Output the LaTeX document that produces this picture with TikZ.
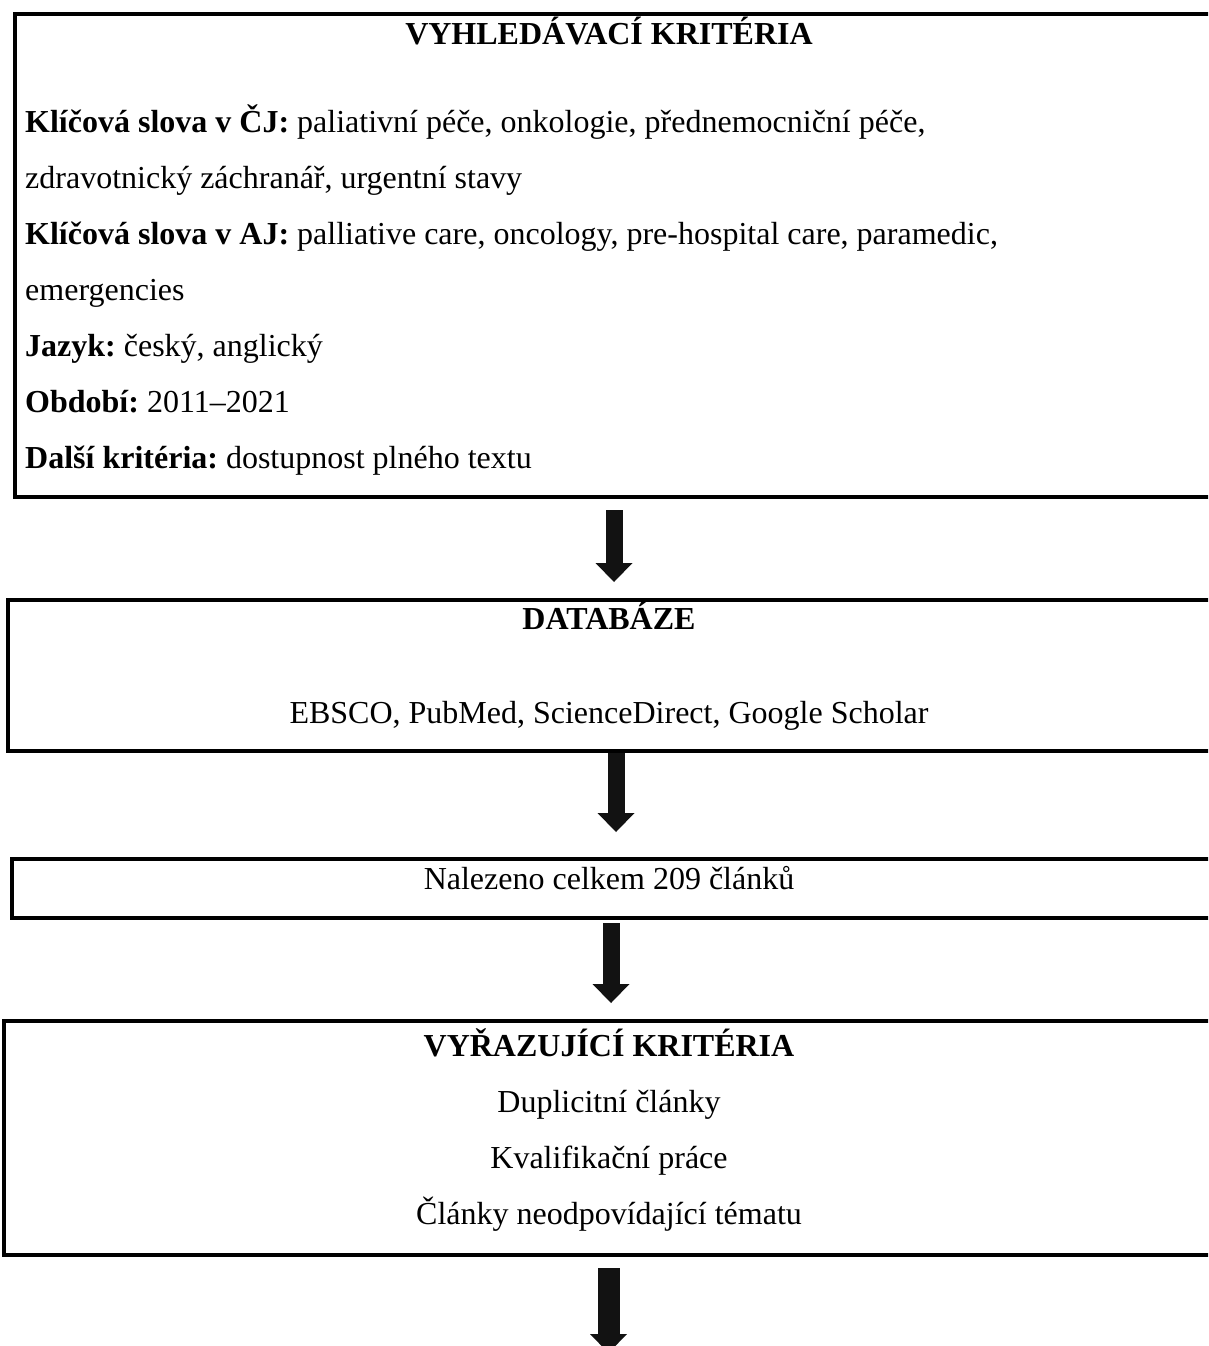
\documentclass[tikz,border=0pt]{standalone}
\usepackage{fontspec}
\setmainfont{Liberation Serif}
\usetikzlibrary{arrows.meta}
\frenchspacing
\begin{document}
\begin{tikzpicture}[x=1pt,y=-1pt,
  boxst/.style={draw=black, line width=4pt, rectangle, inner sep=0pt, anchor=north west},
  txt/.style={font=\fontsize{32}{32}\selectfont, inner sep=0pt, anchor=base},
  ltxt/.style={txt, anchor=base west},
  bigarrow/.style={line width=17pt, draw=black!93, -{Triangle[width=37pt,length=19pt,line width=0pt]}}]
\useasboundingbox (0,0) rectangle (1208,1346);
\clip (0,0) rectangle (1208,1346);
% boxes
\node[boxst, minimum width=1240pt, minimum height=483pt] (b1) at (13,12) {};
\node[boxst, minimum width=1240pt, minimum height=151pt] (b2) at (6,598) {};
\node[boxst, minimum width=1240pt, minimum height=59pt] (b3) at (10,857) {};
\node[boxst, minimum width=1240pt, minimum height=234pt] (b4) at (2,1019) {};
% box 1 text
\node[txt] (h1) at (609,45) {\textbf{VYHLEDÁVACÍ KRITÉRIA}};
\node[ltxt] (k1) at (25,132) {\textbf{Klíčová slova v ČJ:} paliativní péče, onkologie, přednemocniční péče,};
\node[ltxt] (k2) at (25,188) {zdravotnický záchranář, urgentní stavy};
\node[ltxt] (k3) at (25,244) {\textbf{Klíčová slova v AJ:} palliative care, oncology, pre-hospital care, paramedic,};
\node[ltxt] (k4) at (25,300) {emergencies};
\node[ltxt] (k5) at (25,356) {\textbf{Jazyk:} český, anglický};
\node[ltxt] (k6) at (25,412) {\textbf{Období:} 2011–2021};
\node[ltxt] (k7) at (25,468) {\textbf{Další kritéria:} dostupnost plného textu};
% box 2 text
\node[txt] (h2) at (609,629) {\textbf{DATABÁZE}};
\node[txt] (d1) at (609,723) {EBSCO, PubMed, ScienceDirect, Google Scholar};
% box 3 text
\node[txt] (n1) at (609,889) {Nalezeno celkem 209 článků};
% box 4 text
\node[txt] (h4) at (609,1056) {\textbf{VYŘAZUJÍCÍ KRITÉRIA}};
\node[txt] (v1) at (609,1112) {Duplicitní články};
\node[txt] (v2) at (609,1168) {Kvalifikační práce};
\node[txt] (v3) at (609,1224) {Články neodpovídající tématu};
% arrows
\coordinate (a1s) at (614,510);
\coordinate (a1e) at (614,582);
\coordinate (a2s) at (616,753);
\coordinate (a2e) at (616,832);
\coordinate (a3s) at (611,923);
\coordinate (a3e) at (611,1003);
\coordinate (a4s) at (608.5,1268);
\coordinate (a4e) at (608.5,1353);
\draw[bigarrow] (a1s) -- (a1e);
\draw[bigarrow] (a2s) -- (a2e);
\draw[bigarrow] (a3s) -- (a3e);
\draw[bigarrow, line width=22pt] (a4s) -- (a4e);
\end{tikzpicture}
\end{document}
